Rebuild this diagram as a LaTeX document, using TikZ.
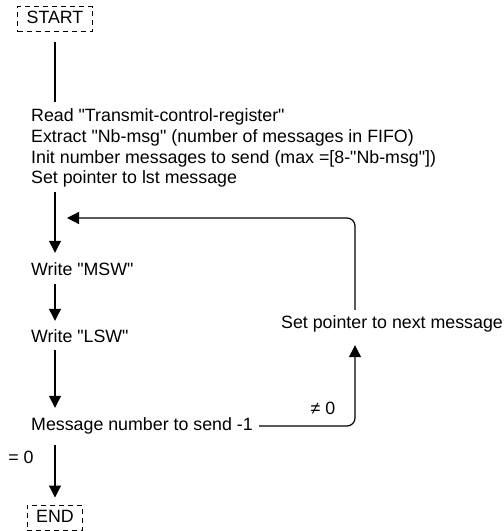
\documentclass[tikz,border=0pt]{standalone}
\usepackage{fontspec}
\setmainfont{Liberation Sans}[Ligatures=TeXOff]
\usetikzlibrary{arrows.meta,positioning}
\begin{document}
\begin{tikzpicture}[x=1pt,y=-1pt,
every node/.style={font=\fontsize{17.8}{21}\selectfont,inner sep=0pt,text height=12.5pt,text depth=3.5pt},
term/.style={draw,line width=1pt,dash pattern=on 5pt off 4pt,inner xsep=9pt,minimum height=25pt},
txt/.style={anchor=west},
flow/.style={line width=1.2pt,-{Triangle[width=12pt,length=12pt]}}]
\useasboundingbox (0,0) rectangle (504,531);
\node[term] (start) at (55,19) {START};
\node[txt] (init1) at (31,117) {Read "Transmit-control-register"};
\node[txt] (init2) at (31,138) {Extract "Nb-msg" (number of messages in FIFO)};
\node[txt] (init3) at (31,159) {Init number messages to send (max =[8-"Nb-msg"])};
\node[txt] (init4) at (31,179) {Set pointer to lst message};
\node[txt] (msw) at (31,271) {Write "MSW"};
\node[txt] (lsw) at (31,338) {Write "LSW"};
\node[txt] (dec) at (31,426) {Message number to send -1};
\node[txt] (next) at (281,324) {Set pointer to next message};
\node[term] (end) at (55,517.5) {END};
\node (ne) at (323,410) {≠ 0};
\node (eq) at (21,459) {= 0};
\coordinate (join) at (55,218);
\coordinate (turn) at (355,218);
\draw[line width=1.2pt,shorten <=10pt,shorten >=7pt] (start) -- (start |- init1.north);
\draw[flow,shorten <=5pt,shorten >=10pt] (init4.south -| start) -- (msw.north -| start);
\draw[flow,shorten <=5pt,shorten >=9pt] (msw.south -| start) -- (lsw.north -| start);
\draw[flow,shorten <=4pt,shorten >=10pt] (lsw.south -| start) -- (dec.north -| start);
\draw[flow,shorten <=11pt,shorten >=7pt] (dec.south -| start) -- (end);
\draw[flow,rounded corners=8pt,shorten <=6pt,shorten >=13pt] (dec.east) -| (next.south -| turn);
\draw[flow,rounded corners=8pt,shorten <=6pt,shorten >=12pt] (next.north -| turn) -- (turn) -- (join);
\end{tikzpicture}
\end{document}
